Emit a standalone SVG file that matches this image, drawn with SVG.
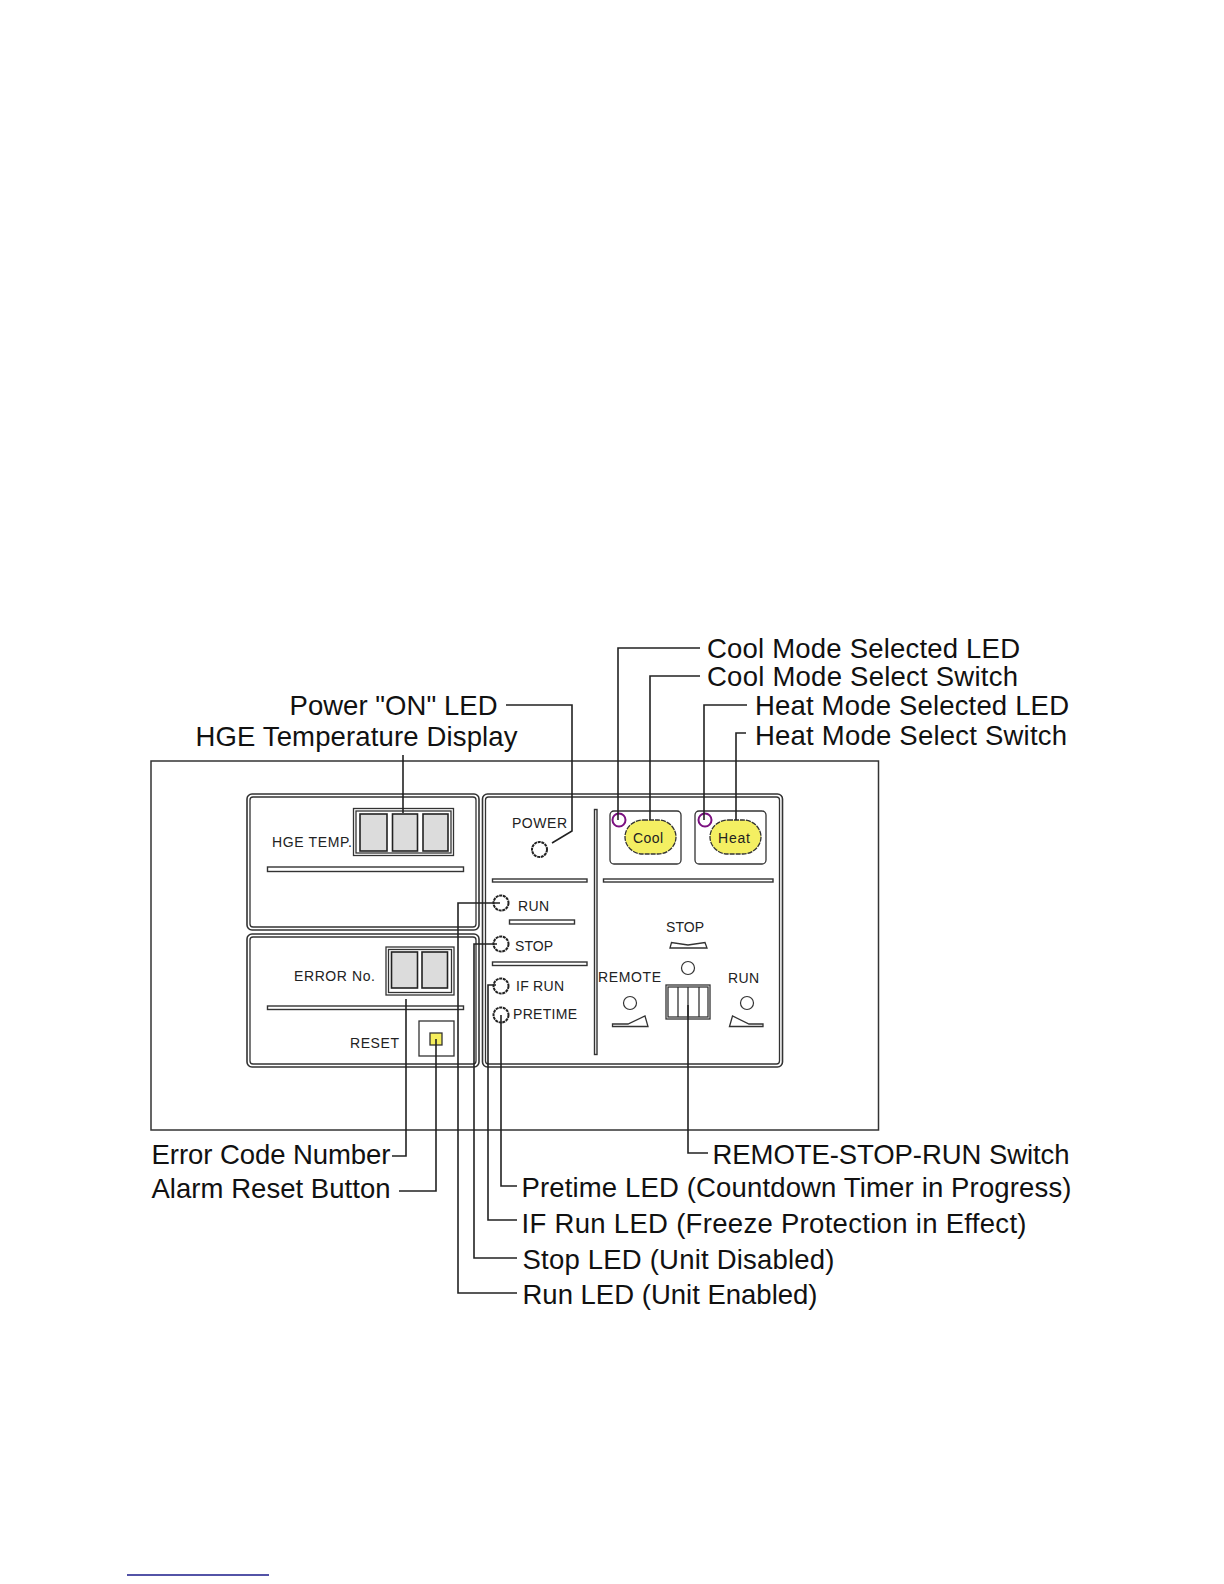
<svg xmlns="http://www.w3.org/2000/svg" width="1224" height="1584" viewBox="0 0 1224 1584">
<style>
.lab{font-family:"Liberation Sans",Arial,sans-serif;font-size:27.5px;fill:#111}
.sm{font-family:"Liberation Sans",Arial,sans-serif;font-size:14px;fill:#222}
.ln{fill:none;stroke:#222;stroke-width:1.6}
.thin{fill:none;stroke:#333;stroke-width:1.3}
.panel{fill:#fff;stroke:#333;stroke-width:1.6}
.panel2{fill:none;stroke:#333;stroke-width:1.3}
.bar{fill:#fff;stroke:#333;stroke-width:1.4}
.cell{fill:#dcdcdc;stroke:#222;stroke-width:1.6}
.led{fill:#fff;stroke:#222;stroke-width:2;stroke-dasharray:3 .7}
.dot{fill:#fff;stroke:#333;stroke-width:1.2}
.pled{fill:none;stroke:#7b1080;stroke-width:2}
.btn{fill:#f4ef62;stroke:#333;stroke-width:1.3;stroke-dasharray:5 1}
</style>
<rect width="1224" height="1584" fill="#fff"/>
<g id="frame"><rect x="151" y="761" width="727.500" height="369" fill="none" stroke="#333" stroke-width="1.5"/></g>
<g id="panel-hge">
<rect class="panel" x="247" y="794" width="232" height="136" rx="5"/><rect class="panel2" x="250" y="797" width="226" height="130" rx="3"/>
<rect class="thin" x="353.500" y="808.500" width="100" height="47"/><rect class="thin" x="356" y="811" width="95" height="42"/>
<rect class="cell" x="360" y="814" width="27" height="37"/><rect class="cell" x="392.500" y="814" width="25" height="37"/><rect class="cell" x="423" y="814" width="25" height="37"/>
<text class="sm" x="272" y="847" textLength="80">HGE TEMP.</text>
<rect class="bar" x="267.500" y="867" width="196" height="4.500"/>
</g>
<g id="panel-error">
<rect class="panel" x="247" y="934" width="232" height="133" rx="5"/><rect class="panel2" x="250" y="937" width="226" height="127" rx="3"/>
<rect class="thin" x="386" y="947" width="68" height="48"/><rect class="thin" x="388.500" y="949.500" width="63" height="43"/>
<rect class="cell" x="391.500" y="952" width="26" height="36"/><rect class="cell" x="422" y="952" width="25.500" height="36"/>
<text class="sm" x="294" y="981" textLength="81">ERROR No.</text>
<rect class="bar" x="267.500" y="1006" width="196" height="3.500"/>
<text class="sm" x="350" y="1048" textLength="49">RESET</text>
<rect class="thin" x="419" y="1021" width="35" height="35"/>
<rect x="430" y="1033" width="12" height="12" fill="#f6ee5c" stroke="#333" stroke-width="1.3"/>
</g>
<g id="panel-main">
<rect class="panel" x="482.500" y="794" width="300" height="273" rx="5"/><rect class="panel2" x="485.500" y="797" width="294" height="267" rx="3"/>
<rect class="bar" x="594.500" y="809.500" width="2.500" height="245"/>
<rect class="bar" x="492.500" y="879" width="94.500" height="3"/><rect class="bar" x="603.500" y="879" width="169.500" height="3"/>
<rect class="bar" x="509.500" y="920" width="65" height="4"/><rect class="bar" x="492.500" y="962" width="94.500" height="3.500"/>
</g>
<g id="power-led"><text class="sm" x="512" y="828" textLength="55">POWER</text><circle class="led" cx="539.500" cy="849.500" r="7.500"/></g>
<g id="run-led"><circle class="led" cx="501" cy="903" r="7.500"/><text class="sm" x="518" y="911" textLength="31">RUN</text></g>
<g id="stop-led"><circle class="led" cx="501" cy="944" r="7.500"/><text class="sm" x="515" y="951" textLength="38">STOP</text></g>
<g id="ifrun-led"><circle class="led" cx="501" cy="986" r="7.500"/><text class="sm" x="516" y="991" textLength="48">IF RUN</text></g>
<g id="pretime-led"><circle class="led" cx="501" cy="1015" r="7.500"/><text class="sm" x="513" y="1019" textLength="64">PRETIME</text></g>
<g id="cool-button">
<rect class="thin" x="610" y="811" width="71" height="53" rx="4"/>
<rect class="btn" x="625" y="820" width="51" height="34" rx="18" ry="17"/>
<circle class="pled" cx="619" cy="820" r="6.500"/>
<text class="sm" x="633" y="843" textLength="30">Cool</text>
</g>
<g id="heat-button">
<rect class="thin" x="695" y="811" width="71" height="53" rx="4"/>
<rect class="btn" x="710" y="820" width="51" height="34" rx="18" ry="17"/>
<circle class="pled" cx="705" cy="820" r="6.500"/>
<text class="sm" x="718" y="843" textLength="32">Heat</text>
</g>
<g id="selector-switch">
<text class="sm" x="666" y="932" textLength="38">STOP</text>
<path class="thin" d="M670 948L671.500 942.500L688 945L705 942.500L707 948Z"/>
<circle class="dot" cx="688" cy="968" r="6.500"/>
<text class="sm" x="598" y="982" textLength="63">REMOTE</text>
<circle class="dot" cx="630" cy="1003" r="6.500"/>
<path class="thin" d="M612.500 1026.500V1024H628L645 1016L648 1026.500Z"/>
<text class="sm" x="728" y="983" textLength="31">RUN</text>
<circle class="dot" cx="747" cy="1003" r="6.500"/>
<path class="thin" d="M729.500 1026.500L732.500 1016L749 1024H763V1026.500Z"/>
<rect x="666" y="985" width="44" height="34" fill="#fff" stroke="#333" stroke-width="1.3"/>
<rect class="thin" x="668" y="987" width="40" height="30"/>
<path class="thin" d="M678 987V1017M688 987V1017M699 987V1017"/>
</g>
<g id="connectors">
<path class="ln" d="M506 705H572V831L552 843"/>
<path class="ln" d="M403 755V813"/>
<path class="ln" d="M700 648H618V820"/>
<path class="ln" d="M700 676H650V820"/>
<path class="ln" d="M747 705H704V820"/>
<path class="ln" d="M746 733H736V820"/>
<path class="ln" d="M500 903H458V1293H517"/>
<path class="ln" d="M497 944H474V1258H517"/>
<path class="ln" d="M496 985H488V1220H517"/>
<path class="ln" d="M501 1015V1186H517"/>
<path class="ln" d="M406 999V1156H392"/>
<path class="ln" d="M436 1039V1191H399"/>
<path class="ln" d="M688 1005V1153H708"/>
</g>
<g id="labels">
<text class="lab" x="707" y="658" textLength="313">Cool Mode Selected LED</text>
<text class="lab" x="707" y="686" textLength="311">Cool Mode Select Switch</text>
<text class="lab" x="755" y="715" textLength="314">Heat Mode Selected LED</text>
<text class="lab" x="755" y="745" textLength="312">Heat Mode Select Switch</text>
<text class="lab" x="289.500" y="715" textLength="208">Power "ON" LED</text>
<text class="lab" x="195.500" y="746" textLength="322">HGE Temperature Display</text>
<text class="lab" x="151.500" y="1164" textLength="239">Error Code Number</text>
<text class="lab" x="151.500" y="1198" textLength="239">Alarm Reset Button</text>
<text class="lab" x="712.500" y="1164" textLength="357">REMOTE-STOP-RUN Switch</text>
<text class="lab" x="521.500" y="1197" textLength="550">Pretime LED (Countdown Timer in Progress)</text>
<text class="lab" x="521.500" y="1233" textLength="505">IF Run LED (Freeze Protection in Effect)</text>
<text class="lab" x="522.500" y="1269" textLength="312">Stop LED (Unit Disabled)</text>
<text class="lab" x="522.500" y="1304" textLength="295">Run LED (Unit Enabled)</text>
</g>
<path id="footer-rule" d="M127 1575H269" stroke="#1a1a8a" stroke-width="1.500" fill="none"/>
</svg>
